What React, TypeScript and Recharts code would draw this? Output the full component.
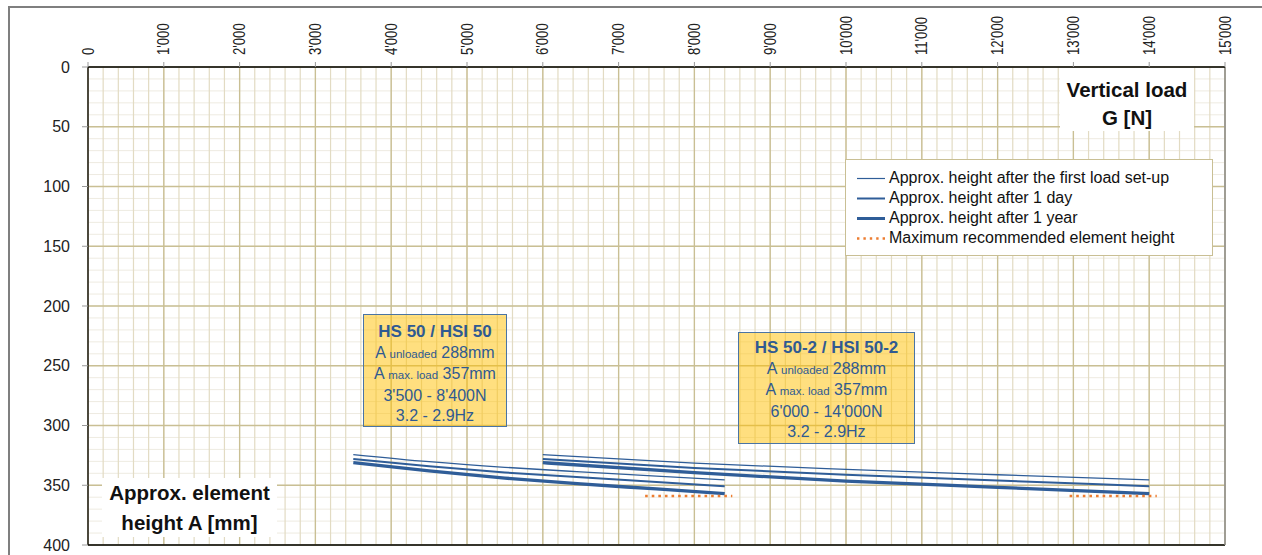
import { CartesianGrid, Line, LineChart, ReferenceLine, XAxis, YAxis } from "recharts";

// axis ticks
const loadTicks = [0, 1000, 2000, 3000, 4000, 5000, 6000, 7000, 8000, 9000, 10000, 11000, 12000, 13000, 14000, 15000];
const heightTicks = [0, 50, 100, 150, 200, 250, 300, 350, 400];
const minorLoadTicks = Array.from({ length: 76 }, (_, i) => i * 200);
const minorHeightTicks = Array.from({ length: 41 }, (_, i) => i * 10);

// HS 50 / HSI 50
const hs50Load = [3500, 4500, 5500, 6500, 7500, 8400];
const hs50FirstLoad = [324.3, 330.3, 335.0, 338.8, 342.3, 345.5];
const hs50OneDay = [328.0, 334.2, 339.3, 343.4, 347.3, 350.8];
const hs50OneYear = [331.1, 338.0, 344.0, 348.9, 353.1, 357.0];
const hs50MaxLoad = [7350, 8500];
const hs50MaxHeight = [359, 359];

// HS 50-2 / HSI 50-2
const hs502Load = [6000, 8000, 10000, 12000, 14000];
const hs502FirstLoad = [324.3, 331.5, 336.7, 341.2, 345.5];
const hs502OneDay = [328.0, 335.5, 341.3, 346.0, 350.8];
const hs502OneYear = [331.1, 339.5, 346.5, 351.7, 357.0];
const hs502MaxLoad = [12950, 14100];
const hs502MaxHeight = [359, 359];

const legendLabels = [
  "Approx. height after the first load set-up",
  "Approx. height after 1 day",
  "Approx. height after 1 year",
  "Maximum recommended element height",
];

const FONT = '"Liberation Sans", Arial, sans-serif';
const BLUE = "#2f5d98";
const ORANGE = "#ed7d31";

const pts = (xs: number[], ys: number[]) => xs.map((g, i) => ({ g, h: ys[i] }));
const fmt = (v: number) => String(v).replace(/\B(?=(\d{3})+(?!\d))/g, "'");

function LoadTick(props: any) {
  const { x, y, payload } = props;
  return (
    <text
      transform={`translate(${x},${y}) rotate(-90) scale(0.82,1)`}
      dy="0.35em"
      textAnchor="start"
      fontSize={16}
      fill="#222"
      fontFamily={FONT}
    >
      {fmt(payload.value)}
    </text>
  );
}

const series = [
  { key: "a1", xs: hs50Load, ys: hs50FirstLoad, w: 1.3 },
  { key: "a2", xs: hs50Load, ys: hs50OneDay, w: 2 },
  { key: "a3", xs: hs50Load, ys: hs50OneYear, w: 3.3 },
  { key: "b1", xs: hs502Load, ys: hs502FirstLoad, w: 1.3 },
  { key: "b2", xs: hs502Load, ys: hs502OneDay, w: 2 },
  { key: "b3", xs: hs502Load, ys: hs502OneYear, w: 3.3 },
];

const boxStyle: React.CSSProperties = {
  position: "absolute",
  boxSizing: "border-box",
  background: "rgba(255,192,0,0.5)",
  border: "1px solid #4a74a4",
  color: "#2f5a92",
  fontFamily: FONT,
  fontSize: 16,
  textAlign: "center",
  lineHeight: "20.6px",
};

const small = { fontSize: 11.5 };

export default function App() {
  return (
    <div style={{ position: "relative", width: 1262, height: 555, overflow: "hidden", background: "#fff" }}>
      <style>{`body{margin:0;overflow:hidden}`}</style>
      <div
        style={{
          position: "absolute",
          left: 8,
          top: 6,
          width: 1270,
          height: 570,
          border: "2px solid #7f7f7f",
        }}
      />
      <div style={{ position: "absolute", left: 0, top: 0 }}>
        <LineChart width={1262} height={555} margin={{ top: 7, left: 28, right: 37, bottom: 10 }}>
          <CartesianGrid vertical={false} horizontalValues={minorHeightTicks} stroke="#eeebe1" strokeWidth={1} />
          <CartesianGrid horizontal={false} verticalValues={minorLoadTicks} stroke="#e2dbc3" strokeWidth={1.2} />
          <CartesianGrid stroke="#c9bf94" strokeWidth={1.3} />
          <XAxis
            dataKey="g"
            type="number"
            orientation="top"
            domain={[0, 15000]}
            ticks={loadTicks}
            interval={0}
            height={60}
            tickSize={5}
            tickMargin={7}
            tick={<LoadTick />}
            axisLine={{ stroke: "#000", strokeWidth: 1.3 }}
            tickLine={{ stroke: "#999" }}
          />
          <YAxis
            type="number"
            domain={[0, 400]}
            reversed
            ticks={heightTicks}
            interval={0}
            width={60}
            tickSize={6}
            tickMargin={12}
            tick={{ fontSize: 16, fill: "#222", fontFamily: FONT }}
            axisLine={{ stroke: "#000", strokeWidth: 1.3 }}
            tickLine={{ stroke: "#999" }}
          />
          <ReferenceLine y={400} stroke="#000" strokeWidth={1.3} />
          <ReferenceLine x={15000} stroke="#8c8c8c" strokeWidth={1.5} />
          {series.map((s) => (
            <Line
              key={s.key}
              data={pts(s.xs, s.ys)}
              dataKey="h"
              type="monotone"
              stroke={BLUE}
              strokeWidth={s.w}
              dot={false}
              activeDot={false}
              isAnimationActive={false}
            />
          ))}
          <Line
            data={pts(hs50MaxLoad, hs50MaxHeight)}
            dataKey="h"
            stroke={ORANGE}
            strokeWidth={2.6}
            strokeDasharray="2.6 4"
            dot={false}
            activeDot={false}
            isAnimationActive={false}
          />
          <Line
            data={pts(hs502MaxLoad, hs502MaxHeight)}
            dataKey="h"
            stroke={ORANGE}
            strokeWidth={2.6}
            strokeDasharray="2.6 4"
            dot={false}
            activeDot={false}
            isAnimationActive={false}
          />
        </LineChart>
      </div>

      {/* axis title boxes */}
      <div
        style={{
          position: "absolute",
          left: 1060,
          top: 68,
          width: 134,
          height: 63,
          background: "#fff",
          fontFamily: FONT,
          fontWeight: "bold",
          fontSize: 20.5,
          lineHeight: "28px",
          paddingTop: 8,
          boxSizing: "border-box",
          textAlign: "center",
          color: "#111",
        }}
      >
        Vertical load
        <br />G [N]
      </div>
      <div
        style={{
          position: "absolute",
          left: 102,
          top: 478,
          width: 175,
          height: 59,
          background: "#fff",
          fontFamily: FONT,
          fontWeight: "bold",
          fontSize: 20.5,
          lineHeight: "30px",
          boxSizing: "border-box",
          textAlign: "center",
          color: "#111",
        }}
      >
        Approx. element
        <br />
        height A [mm]
      </div>

      {/* legend */}
      <div
        style={{
          position: "absolute",
          left: 845,
          top: 159,
          width: 368,
          height: 97,
          boxSizing: "border-box",
          background: "#fff",
          border: "1px solid #c9bf94",
          paddingTop: 8,
          fontFamily: FONT,
          fontSize: 16,
          color: "#111",
        }}
      >
        {legendLabels.map((label, i) => (
          <div key={label} style={{ height: 20, lineHeight: "20px", display: "flex", alignItems: "center" }}>
            <svg width={43} height={20} style={{ flex: "none" }}>
              <line
                x1={11}
                x2={39}
                y1={10.5}
                y2={10.5}
                stroke={i === 3 ? ORANGE : BLUE}
                strokeWidth={i === 0 ? 1.2 : i === 1 ? 2 : i === 2 ? 3 : 2.4}
                strokeDasharray={i === 3 ? "2.4 4" : undefined}
              />
            </svg>
            <span>{label}</span>
          </div>
        ))}
      </div>

      {/* product boxes */}
      <div style={{ ...boxStyle, left: 363, top: 314, width: 144, height: 113, paddingTop: 7 }}>
        <div style={{ fontWeight: "bold", fontSize: 17 }}>HS 50 / HSI 50</div>
        <div>
          A <span style={small}>unloaded</span> 288mm
        </div>
        <div>
          A <span style={small}>max. load</span> 357mm
        </div>
        <div>3'500 - 8'400N</div>
        <div>3.2 - 2.9Hz</div>
      </div>
      <div style={{ ...boxStyle, left: 738, top: 332, width: 177, height: 112, paddingTop: 5 }}>
        <div style={{ fontWeight: "bold", fontSize: 17 }}>HS 50-2 / HSI 50-2</div>
        <div>
          A <span style={small}>unloaded</span> 288mm
        </div>
        <div>
          A <span style={small}>max. load</span> 357mm
        </div>
        <div>6'000 - 14'000N</div>
        <div>3.2 - 2.9Hz</div>
      </div>
    </div>
  );
}
